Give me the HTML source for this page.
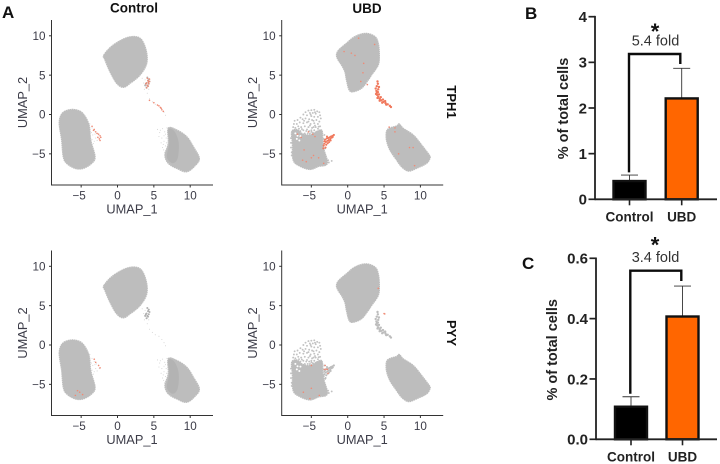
<!DOCTYPE html>
<html>
<head>
<meta charset="utf-8">
<style>
html,body{margin:0;padding:0;background:#fff;}
svg{display:block;font-family:"Liberation Sans",sans-serif;}
</style>
</head>
<body>
<svg id="figure" width="720" height="464" viewBox="0 0 720 464" xmlns="http://www.w3.org/2000/svg">
  <defs><filter id="soft" x="-5%" y="-5%" width="110%" height="110%"><feGaussianBlur stdDeviation="0.35"/></filter></defs>
  <text x="2" y="18" font-size="17" font-weight="bold" fill="#111">A</text>
  <text x="525" y="19" font-size="17" font-weight="bold" fill="#111">B</text>
  <text x="522" y="269" font-size="17" font-weight="bold" fill="#111">C</text>
  <text x="134" y="12.5" font-size="13.5" font-weight="bold" text-anchor="middle" fill="#111">Control</text>
  <text x="367" y="13" font-size="13.5" font-weight="bold" text-anchor="middle" fill="#111">UBD</text>
  <text transform="translate(447,102) rotate(90)" font-size="13" font-weight="bold" text-anchor="middle" fill="#111">TPH1</text>
  <text transform="translate(447,333) rotate(90)" font-size="13" font-weight="bold" text-anchor="middle" fill="#111">PYY</text>
</svg>
<script>
// UMAP tick labels
var umapXTicks = [-5, 0, 5, 10];
var umapYTicks = [-5, 0, 5, 10];

// Cluster outlines in UMAP coordinates
var controlTopCluster = [[-1.86,7.56],[-0.57,8.83],[1.49,9.81],[3.1,9.68],[3.92,8.2],[4.01,6.5],[3.1,5.02],[1.72,3.96],[0.8,3.45],[-0.11,3.96],[-1.03,5.44],[-1.72,6.93]];
var controlLeftCluster = [[-8.0,-1.12],[-7.68,0.06],[-6.77,0.57],[-5.61,0.57],[-4.7,0.06],[-3.92,-1.33],[-3.69,-3.24],[-3.1,-5.36],[-3.55,-6.2],[-4.7,-6.84],[-5.85,-6.84],[-6.99,-6.2],[-7.45,-5.36],[-7.68,-3.24]];
var controlRightCluster = [[6.99,-1.75],[8.14,-1.97],[9.52,-2.82],[10.43,-4.09],[11.25,-5.57],[10.66,-6.5],[9.52,-7.27],[8.14,-6.84],[6.99,-6.2],[6.53,-5.15],[6.99,-3.66]];
var controlRightDenseRegion = [[7.0,-1.9],[7.8,-2.1],[8.4,-3.5],[8.3,-5.5],[7.6,-6.2],[6.8,-5.4],[7.1,-3.7]];
var ubdTopCluster = [[-1.54,7.56],[-1.22,8.2],[-0.16,9.05],[0.99,9.9],[2.5,10.3],[3.74,9.9],[4.2,9.05],[4.34,7.56],[4.2,6.3],[3.28,5.02],[2.82,4.39],[1.9,3.33],[0.76,2.9],[0.2,3.12],[-0.16,4.39],[-0.39,5.44],[-0.85,6.3],[-1.31,6.93]];
var ubdLeftCluster = [[-7.6,-3.67],[-7.7,-2.2],[-7.0,-1.9],[-6.3,-2.4],[-5.6,-2.6],[-4.9,-2.5],[-3.9,-2.0],[-3.5,-2.2],[-3.36,-4.1],[-2.8,-6.2],[-4.0,-6.6],[-5.2,-6.97],[-6.6,-6.55],[-7.5,-5.78]];
var ubdRightCluster = [[5.34,-2.18],[5.71,-1.76],[6.72,-1.46],[7.09,-1.21],[7.64,-1.76],[9.01,-2.6],[10.16,-3.88],[11.21,-5.15],[11.3,-5.57],[10.85,-6.2],[9.47,-6.84],[8.33,-7.18],[7.41,-6.63],[6.72,-5.78],[5.8,-4.5],[5.34,-3.24]];
var ubdLeftHoles = [[-7.0,-3.1],[-6.65,-3.3],[-6.9,-2.7],[-6.5,-2.75],[-7.2,-2.4]];

// Sparse grey cells
var controlSparseCells = [[-3.8,-1.2],[-3.5,-1.7],[-3.2,-2.1],[-2.9,-2.4],[-2.6,-2.6],[-3.4,-2.6],[-3.0,-3.0],[-3.5,-3.2],[-2.8,-3.3],[-3.3,-3.7],[-2.5,-3.0],[-3.1,-2.5],[-3.6,-2.3],[-3.2,-3.4],
  [5.5,-1.9],[5.8,-2.3],[6.2,-1.8],[6.5,-2.2],[5.7,-2.8],[6.1,-3.0],[6.4,-2.7],[6.0,-3.6],[6.4,-3.4],[6.2,-4.2],[6.6,-4.0],[6.5,-4.8],[6.8,-1.7],[5.9,-2.0],[6.3,-3.8],[6.7,-3.0],[6.6,-2.5],[6.35,-4.5],[6.75,-3.6],
  [3.0,5.0],[3.4,4.6],[3.6,4.0],[3.9,3.6],[4.1,2.7],[4.4,2.0],[4.8,1.6],[5.2,1.3],[5.7,1.1],[6.1,0.7],[6.4,0.3],[6.6,-0.1],[3.8,4.4],[3.7,3.2],[4.3,3.2]];
var controlClumpCells = [[4.1,4.7],[4.2,4.3],[4.0,4.0],[4.3,3.9],[4.1,3.7],[4.4,4.2],[4.0,3.4],[3.9,3.9],[4.2,3.6],[4.3,4.5],[3.8,3.7]];
var ubdSpeckleCells = [[-5.4,0.5],[-5.0,0.55],[-4.6,0.6],[-4.2,0.4],[-3.9,0.3],[-5.8,0.3],[-5.2,0.2],[-4.8,0.2],[-4.4,0.1],[-3.8,-0.1],[-6.1,0.0],[-5.6,-0.1],[-5.0,-0.2],[-4.6,-0.3],[-4.1,-0.3],[-3.7,-0.5],
  [-7.3,-0.8],[-6.9,-0.7],[-6.5,-0.4],[-6.2,-0.6],[-5.8,-0.5],[-5.3,-0.6],[-4.9,-0.7],[-4.3,-0.7],[-3.9,-0.9],[-7.4,-1.2],[-7.0,-1.2],[-6.6,-1.0],[-6.1,-1.1],[-5.6,-1.0],[-5.1,-1.2],[-4.6,-1.1],[-4.1,-1.2],[-3.8,-1.5],
  [-7.5,-1.6],[-7.2,-1.7],[-6.8,-1.5],[-6.4,-1.6],[-5.9,-1.5],[-5.4,-1.6],[-4.9,-1.7],[-4.4,-1.6],[-4.1,-1.8],[-6.5,-2.1],[-6.1,-2.0],[-5.7,-2.1],[-5.3,-2.1],[-5.0,-2.2],[-4.6,-2.0],[-4.3,-2.2],
  [-5.9,-2.4],[-5.5,-2.4],[-5.2,-2.4],[-4.8,-2.3],[-4.5,-2.4],[-4.2,-2.3],[-7.8,-3.0],[-7.8,-3.6],[-7.8,-4.2],[-7.7,-4.8],[-7.7,-5.2],[-3.2,-2.6],[-3.3,-3.1],[-3.1,-4.3],[-2.7,-5.8],[-2.6,-6.1],[-2.2,-5.9],
  [-5.0,-2.0],[-4.7,-1.6],[-5.6,-1.9],[-6.7,-1.8],[-6.3,-1.85],[-4.5,-1.4],[-4.0,-1.55],[-5.2,-1.4],[-6.0,-0.8],[-5.4,-0.9],[-4.7,-0.8],[-4.5,0.3],[-5.1,0.0]];
var ubdCrescentCells = [[4.1,4.2],[4.15,3.9],[4.0,3.6],[3.85,3.3],[3.95,3.0],[4.0,2.75],[4.05,2.5],[4.2,2.25],[4.4,2.0],[4.6,1.8],[4.9,1.6],[5.2,1.45],[5.5,1.3],[5.8,1.1],[5.95,0.95],[4.3,3.5],[4.2,3.2],[4.15,2.85],[4.3,2.55],[4.55,2.2],[4.85,1.9],[5.15,1.7],[3.9,2.6],[4.1,2.1],[4.4,1.75],[4.75,1.5],[5.3,1.25]];
var ubdWedgeCells = [[-1.9,-2.6],[-2.1,-2.7],[-2.3,-2.8],[-2.5,-2.9],[-2.7,-3.0],[-2.2,-2.95],[-2.4,-3.1],[-2.6,-3.25],[-2.8,-3.35],[-3.0,-3.5],[-2.9,-3.05],[-3.1,-3.2],[-3.2,-3.7],[-3.3,-3.95],[-2.95,-3.85],[-2.05,-2.85],[-2.55,-3.5],[-3.05,-4.2],[-3.2,-3.4],[-2.75,-3.65],[-2.35,-3.3],[-2.85,-2.8],[-3.35,-4.3]];

// Expressing cells (red) per panel
var controlTph1Cells = [[4.1,4.6],[4.2,4.3],[4.0,4.0],[4.3,3.9],[4.1,3.7],[4.4,4.2],[4.0,3.4],[3.9,3.9],[4.2,3.6],[4.4,4.5],[4.25,4.1],
  [4.4,1.8],[5.0,1.5],[5.5,1.2],[5.9,0.9],[6.1,0.6],[6.3,0.4],[5.7,1.1],[6.0,0.8],
  [-3.5,-1.5],[-3.2,-1.9],[-3.0,-2.2],[-2.8,-2.4],[-3.3,-2.0],[-2.4,-2.7],[-2.3,-2.9],[-2.5,-3.1],[-2.4,-3.3],[-2.7,-2.9],[-2.6,-2.5]];
var ubdTph1Cells = [[-6.9,-2.5],[-4.5,-2.8],[-5.0,-5.5],[-6.2,-5.8],[-5.7,-6.0],[-4.0,-5.5],[-3.3,-6.2],[-6.0,-4.5],[-4.7,-5.2],[-6.4,-2.9],[-5.4,-2.2],[-4.8,-2.5],
  [0.5,7.8],[1.0,7.5],[2.2,6.5],[2.1,5.3],[1.5,9.7],[3.7,8.9],[-0.5,8.0],[1.8,4.2],[2.7,3.8],[5.7,-1.6],[6.5,-1.7],[9.0,-4.2],[8.5,-4.2],[9.2,-6.5],[7.0,-5.0],[6.5,-2.2]];
var controlPyyCells = [[-3.2,-1.8],[-2.4,-2.9],[-3.0,-2.2],[-2.6,-2.6],[-5.5,-5.8],[-4.8,-6.3],[-5.8,-6.4],[-5.2,-6.0]];
var ubdPyyCells = [[-5.0,-2.6],[-3.2,-3.1],[-3.0,-3.05],[-2.8,-3.1],[-3.1,-2.6],[-2.7,-3.6],[-5.0,-5.5],[-6.1,-6.0],[-5.2,-6.8],[-3.9,-6.4],[4.2,7.2],[5.1,3.95],[5.0,4.0]];

// Bar charts
var barCategories = ["Control", "UBD"];
var tph1Means = [0.40, 2.21];
var tph1Errors = [0.13, 0.66];
var tph1Ticks = ["0", "1", "2", "3", "4"];
var pyyMeans = [0.108, 0.407];
var pyyErrors = [0.033, 0.101];
var pyyTicks = ["0.0", "0.2", "0.4", "0.6"];
var tph1FoldLabel = "5.4 fold";
var pyyFoldLabel = "3.4 fold";

var svgNS = "http://www.w3.org/2000/svg";
var root = document.getElementById("figure");

function make(tag, parent, attrs, text) {
  var el = document.createElementNS(svgNS, tag);
  for (var k in attrs) el.setAttribute(k, attrs[k]);
  if (text !== undefined) el.textContent = text;
  parent.appendChild(el);
  return el;
}

function smoothClosedPath(points) {
  var n = points.length, d = "M" + points[0][0].toFixed(1) + " " + points[0][1].toFixed(1);
  for (var i = 0; i < n; i++) {
    var p0 = points[(i - 1 + n) % n], p1 = points[i], p2 = points[(i + 1) % n], p3 = points[(i + 2) % n];
    var c1x = p1[0] + (p2[0] - p0[0]) / 6, c1y = p1[1] + (p2[1] - p0[1]) / 6;
    var c2x = p2[0] - (p3[0] - p1[0]) / 6, c2y = p2[1] - (p3[1] - p1[1]) / 6;
    d += "C" + c1x.toFixed(1) + " " + c1y.toFixed(1) + " " + c2x.toFixed(1) + " " + c2y.toFixed(1) + " " + p2[0].toFixed(1) + " " + p2[1].toFixed(1);
  }
  return d + "Z";
}

function drawUmapPanel(name, ox, oy, clusters, dense, holes, sparse, sparseColor, clump, clumpColor, clumpR, crescent, crescentColor, red) {
  var g = make("g", root, {});
  
  
  var sx = function (u) { return ox + u * 7.27; };
  var sy = function (v) { return oy - v * 7.87; };
  var toPx = function (p) { return [sx(p[0]), sy(p[1])]; };
  var marks = make("g", g, {filter: "url(#soft)"});
  sparse.forEach(function (p) {
    var c = make("circle", marks, {cx: sx(p[0]), cy: sy(p[1]), r: holes.length ? 0.95 : 0.55, fill: sparseColor});
    
    
  });
  clusters.forEach(function (poly) {
    var c = make("path", marks, {d: smoothClosedPath(poly.map(toPx)), fill: "#bdbdbd", stroke: "#bdbdbd", "stroke-width": 1.4, "stroke-linejoin": "round", "stroke-dasharray": "1.6 0.5"});
    
    
  });
  if (dense) {
    var dr = make("path", marks, {d: smoothClosedPath(dense.map(toPx)), fill: "#b3b3b3"});
    
    
  }
  holes.forEach(function (p) {
    var h = make("circle", marks, {cx: sx(p[0]), cy: sy(p[1]), r: 1.0, fill: "#fff"});
    
    
  });
  clump.forEach(function (p) {
    var c = make("circle", marks, {cx: sx(p[0]), cy: sy(p[1]), r: clumpR, fill: clumpColor});
    
    
  });
  crescent.forEach(function (p) {
    var c = make("circle", marks, {cx: sx(p[0]), cy: sy(p[1]), r: 1.2, fill: crescentColor});
    
    
  });
  red.forEach(function (p) {
    var c = make("circle", marks, {cx: sx(p[0]), cy: sy(p[1]), r: 0.8, fill: "#ef8a74"});
    
    
  });
  var left = ox - 66, bottom = oy + 70.5;
  var yAxis = make("line", g, {x1: left, y1: oy - 94.5, x2: left, y2: bottom + 0.5, stroke: "#333", "stroke-width": 1});
  
  
  var xAxis = make("line", g, {x1: left, y1: bottom, x2: ox + 95.5, y2: bottom, stroke: "#333", "stroke-width": 1});
  
  
  umapXTicks.forEach(function (t) {
    make("line", g, {x1: sx(t), y1: bottom, x2: sx(t), y2: bottom + 2.5, stroke: "#333", "stroke-width": 1});
    var lab = make("text", g, {x: sx(t) - (t < 0 ? 2 : 0), y: bottom + 14.5, "font-size": 11.7, "text-anchor": "middle", fill: "#3c3c48"}, t < 0 ? "\u2212" + (-t) : String(t));
    
    
  });
  umapYTicks.forEach(function (t) {
    make("line", g, {x1: left - 2.5, y1: sy(t), x2: left, y2: sy(t), stroke: "#333", "stroke-width": 1});
    var lab = make("text", g, {x: left - 6, y: sy(t) + 4.2, "font-size": 11.7, "text-anchor": "end", fill: "#3c3c48"}, t < 0 ? "\u2212" + (-t) : String(t));
    
    
  });
  var xt = make("text", g, {x: ox + 14.5, y: bottom + 28.5, "font-size": 12.8, "text-anchor": "middle", fill: "#3c3c48"}, "UMAP_1");
  
  
  var yt = make("text", g, {transform: "translate(" + (left - 24.7) + "," + (oy - 12) + ") rotate(-90)", "font-size": 12.8, "text-anchor": "middle", fill: "#3c3c48"}, "UMAP_2");
  
  
}

function drawBarPanel(name, axisX, zeroY, pxPerUnit, means, errors, ticks, tickStep, bars, fold, starY, foldY, bracket) {
  var g = make("g", root, {});
  
  
  var sy = function (v) { return zeroY - v * pxPerUnit; };
  var colors = ["#000000", "#ff6600"];
  means.forEach(function (m, i) {
    var cx = bars[i];
    var ew = make("line", g, {x1: cx, y1: sy(m), x2: cx, y2: sy(m + errors[i]), stroke: "#333", "stroke-width": 0.9});
    
    
    var cap = make("line", g, {x1: cx - 8.5, y1: sy(m + errors[i]), x2: cx + 8.5, y2: sy(m + errors[i]), stroke: "#333", "stroke-width": 0.9});
    
    
    var r = make("rect", g, {x: cx - 16, y: sy(m), width: 32, height: zeroY - sy(m), fill: colors[i], stroke: "#111", "stroke-width": 2.4});
    
    
    make("line", g, {x1: cx, y1: zeroY, x2: cx, y2: zeroY + 6, stroke: "#222", "stroke-width": 1.6});
    var lab = make("text", g, {x: cx, y: zeroY + 22.4, "font-size": 13.5, "font-weight": "bold", "text-anchor": "middle", fill: "#222"}, barCategories[i]);
    
    
  });
  var top = sy((ticks.length - 1) * tickStep);
  var ya = make("line", g, {x1: axisX, y1: top - 0.8, x2: axisX, y2: zeroY + 0.8, stroke: "#222", "stroke-width": 1.8});
  
  
  var xa = make("line", g, {x1: axisX, y1: zeroY, x2: 717, y2: zeroY, stroke: "#222", "stroke-width": 1.8});
  
  
  ticks.forEach(function (t, i) {
    var y = sy(i * tickStep);
    make("line", g, {x1: axisX - 6.5, y1: y, x2: axisX, y2: y, stroke: "#222", "stroke-width": 1.7});
    var lab = make("text", g, {x: axisX - 8, y: y + 5.3, "font-size": 15, "font-weight": "bold", "text-anchor": "end", fill: "#222"}, t);
    
    
  });
  var mid = (top + zeroY) / 2;
  var yt = make("text", g, {transform: "translate(" + (axisX - bracket.titleOffset) + "," + (mid + bracket.titleDy) + ") rotate(-90)", "font-size": 14.5, "font-weight": "bold", "text-anchor": "middle", fill: "#222"}, "% of total cells");
  
  
  var br = make("polyline", g, {points: bracket.x1 + "," + sy(means[0] + errors[0] + bracket.gapLeft) + " " + bracket.x1 + "," + bracket.y + " " + bracket.x2 + "," + bracket.y + " " + bracket.x2 + "," + bracket.yEnd, fill: "none", stroke: "#0c0c0c", "stroke-width": 2.4});
  
  
  var star = make("text", g, {x: 655, y: starY, "font-size": 22, "font-weight": "bold", "text-anchor": "middle", fill: "#111"}, "*");
  
  
  var f = make("text", g, {x: 655.5, y: foldY, "font-size": 14.5, "text-anchor": "middle", fill: "#333"}, fold);
  
  
}

var row1Y = 114.5, row2Y = 345, col1X = 117.5, col2X = 347.7;
drawUmapPanel("umap-control-tph1", col1X, row1Y, [controlTopCluster, controlLeftCluster, controlRightCluster], controlRightDenseRegion, [], controlSparseCells, "#d6d6d6", controlClumpCells, "#b5b5b5", 1.0, [], "#bdbdbd", controlTph1Cells);
drawUmapPanel("umap-ubd-tph1", col2X, row1Y, [ubdTopCluster, ubdLeftCluster, ubdRightCluster], null, ubdLeftHoles, ubdSpeckleCells, "#c2c2c2", ubdWedgeCells, "#f0785c", 1.05, ubdCrescentCells, "#f0785c", ubdTph1Cells);
drawUmapPanel("umap-control-pyy", col1X, row2Y, [controlTopCluster, controlLeftCluster, controlRightCluster], controlRightDenseRegion, [], controlSparseCells, "#d6d6d6", controlClumpCells, "#b0b0b0", 1.0, [], "#bdbdbd", controlPyyCells);
drawUmapPanel("umap-ubd-pyy", col2X, row2Y, [ubdTopCluster, ubdLeftCluster, ubdRightCluster], null, ubdLeftHoles, ubdSpeckleCells, "#c2c2c2", ubdWedgeCells, "#bdbdbd", 1.05, ubdCrescentCells, "#bdbdbd", ubdPyyCells);

drawBarPanel("bar-chart-tph1", 595, 199.3, 45.65, tph1Means, tph1Errors, tph1Ticks, 1, [629.5, 681.7], tph1FoldLabel, 39, 45.5, {x1: 629, x2: 680.3, y: 54, yEnd: 64, gapLeft: 0.06, titleOffset: 27, titleDy: 0.5});
drawBarPanel("bar-chart-pyy", 596, 439.3, 301.7, pyyMeans, pyyErrors, pyyTicks, 0.2, [631, 682.5], pyyFoldLabel, 252.5, 262, {x1: 630.3, x2: 681.3, y: 270.7, yEnd: 281, gapLeft: 0.01, titleOffset: 39, titleDy: 1});
</script>
</body>
</html>
